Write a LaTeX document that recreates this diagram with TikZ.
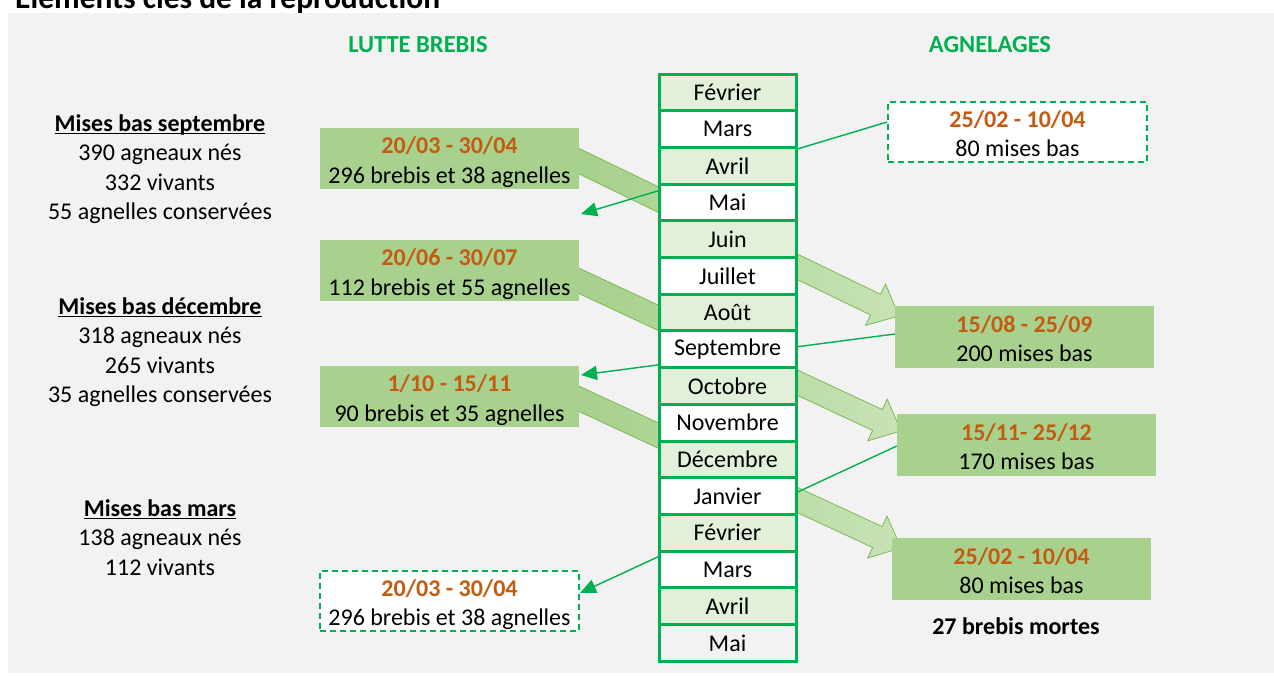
\documentclass[tikz,border=0pt]{standalone}
\usepackage{fontspec}
\setmainfont{Carlito}
\usetikzlibrary{arrows.meta,calc}
\definecolor{bgc}{HTML}{F2F2F2}
\definecolor{gline}{HTML}{00B050}
\definecolor{gbox}{HTML}{A9D18E}
\definecolor{gcell}{HTML}{E2F0D9}
\definecolor{dateor}{HTML}{C55A11}
\definecolor{arrA}{HTML}{A3CF88}
\definecolor{arrB}{HTML}{C8E3B6}
\definecolor{arrO}{HTML}{7CB857}
\newcommand\myul[1]{\setbox0\hbox{#1}\rlap{\rule[-2.8pt]{\wd0}{1.3pt}}\box0}
\newcommand\mybigarrow[2]{%
  \path let \p1=(#1), \p2=(#2), \n1={atan2(\y2-\y1,\x2-\x1)}, \n2={veclen(\x2-\x1,\y2-\y1)} in \pgfextra{\xdef\myang{\n1}\xdef\mylen{\n2}};
  \begin{scope}[shift={(#1)}, rotate=\myang, x=1pt, y=1pt]
    \path[bigarr] (0,-11.5) -- ({\mylen-26},-11.5) -- ({\mylen-26},-23) -- (\mylen,0) -- ({\mylen-26},23) -- ({\mylen-26},11.5) -- (0,11.5) -- cycle;
  \end{scope}}
\tikzset{
  bodyfont/.style={font=\fontsize{24}{29.5}\selectfont},
  hdr/.style={font=\bfseries\fontsize{24.5}{28}\selectfont, text=gline, inner sep=0pt},
  lefttxt/.style={bodyfont, align=center, inner sep=0pt},
  gboxst/.style={fill=gbox, minimum width=259pt, minimum height=61pt, inner sep=0pt},
  dboxst/.style={fill=white, draw=gline, line width=1.6pt, dash pattern=on 6pt off 4pt, minimum width=259pt, minimum height=60pt, inner sep=0pt},
  btxt/.style={bodyfont, align=center, inner sep=0pt},
  cell/.style={draw=gline, line width=3pt, minimum width=137pt, minimum height=36.7pt, inner sep=0pt, bodyfont},
  bigarr/.style={left color=arrA, right color=arrB, draw=arrO, line width=0.8pt},
  thinarr/.style={draw=gline, line width=1.4pt, -{Triangle[length=16pt,width=14pt]}},
  thinln/.style={draw=gline, line width=1.4pt}
}
\begin{document}
\begin{tikzpicture}[x=1pt,y=-1pt]
\useasboundingbox (0,0) rectangle (1274,675);
\clip (0,0) rectangle (1274,675);
\fill[bgc] (8,13) rectangle (1274,673);
\node[anchor=base west, font=\bfseries\fontsize{31.5}{36}\selectfont, inner sep=0pt] (title) at (15,8.5) {Eléments clés de la reproduction};

\node[hdr] (h1) at (418,45) {LUTTE BREBIS};
\node[hdr] (h2) at (990,45) {AGNELAGES};

\node[lefttxt, anchor=north] (ms1) at (160,114) {\textbf{\myul{Mises bas septembre}}\\390 agneaux nés\\332 vivants\\55 agnelles conservées};
\node[lefttxt, anchor=north] (ms2) at (160,297) {\textbf{\myul{Mises bas décembre}}\\318 agneaux nés\\265 vivants\\35 agnelles conservées};
\node[lefttxt, anchor=north] (ms3) at (160,499) {\textbf{\myul{Mises bas mars}}\\138 agneaux nés\\112 vivants};

% big arrows (behind boxes and column)
\coordinate (a1s) at (560,152); \coordinate (a1e) at (899,316);
\coordinate (a2s) at (560,272); \coordinate (a2e) at (901,431);
\coordinate (a3s) at (560,390); \coordinate (a3e) at (901,548);
\mybigarrow{a1s}{a1e}
\mybigarrow{a2s}{a2e}
\mybigarrow{a3s}{a3e}

% left boxes
\node[gboxst] (L1) at (449.5,158.5) {};
\node[btxt] (L1t) at ([yshift=-3.4pt]L1.center) {\textbf{\color{dateor}20/03 - 30/04}\\296 brebis et 38 agnelles\vphantom{g}};
\node[gboxst] (L2) at (449.5,270.5) {};
\node[btxt] (L2t) at ([yshift=-3.4pt]L2.center) {\textbf{\color{dateor}20/06 - 30/07}\\112 brebis et 55 agnelles\vphantom{g}};
\node[gboxst] (L3) at (449.5,396.5) {};
\node[btxt] (L3t) at ([yshift=-3.4pt]L3.center) {\textbf{\color{dateor}1/10 - 15/11}\\90 brebis et 35 agnelles\vphantom{g}};
\node[dboxst] (L4) at (449.5,601) {};
\node[btxt] (L4t) at ([yshift=-3.4pt]L4.center) {\textbf{\color{dateor}20/03 - 30/04}\\296 brebis et 38 agnelles\vphantom{g}};

% right boxes
\node[dboxst] (R1) at (1017.5,132) {};
\node[btxt] (R1t) at ([yshift=-3.4pt]R1.center) {\textbf{\color{dateor}25/02 - 10/04}\\80 mises bas\vphantom{g}};
\node[gboxst, minimum height=62pt] (R2) at (1024.5,337) {};
\node[btxt] (R2t) at ([yshift=-3.4pt]R2.center) {\textbf{\color{dateor}15/08 - 25/09}\\200 mises bas\vphantom{g}};
\node[gboxst, minimum height=62pt] (R3) at (1026.5,445) {};
\node[btxt] (R3t) at ([yshift=-3.4pt]R3.center) {\textbf{\color{dateor}15/11- 25/12}\\170 mises bas\vphantom{g}};
\node[gboxst, minimum height=62pt] (R4) at (1021.5,569) {};
\node[btxt] (R4t) at ([yshift=-3.4pt]R4.center) {\textbf{\color{dateor}25/02 - 10/04}\\80 mises bas\vphantom{g}};
\node[font=\bfseries\fontsize{24}{29.5}\selectfont, inner sep=0pt] (dead) at (1016,626) {27 brebis mortes};

% thin connectors
\coordinate (tA) at (581,214);
\coordinate (tB) at (581,375);
\coordinate (tC) at (580,593);
\draw[thinarr] ([yshift=10pt]R1.west) -- (tA);
\draw[thinarr] ([yshift=3pt]R2.west) -- (tB);
\draw[thinarr] ([yshift=-1pt]R3.west) -- (tC);

% month column
\foreach \i/\m/\f in {1/Février/gcell, 2/Mars/white, 3/Avril/gcell, 4/Mai/white, 5/Juin/gcell, 6/Juillet/white, 7/Août/gcell, 8/Septembre/white, 9/Octobre/gcell, 10/Novembre/white, 11/Décembre/gcell, 12/Janvier/white, 13/Février/gcell, 14/Mars/white, 15/Avril/gcell, 16/Mai/bgc}{
  \node[cell, fill=\f] (m\i) at (727.5,{74+36.7*(\i-0.5)}) {\m};
}
\end{tikzpicture}
\end{document}
